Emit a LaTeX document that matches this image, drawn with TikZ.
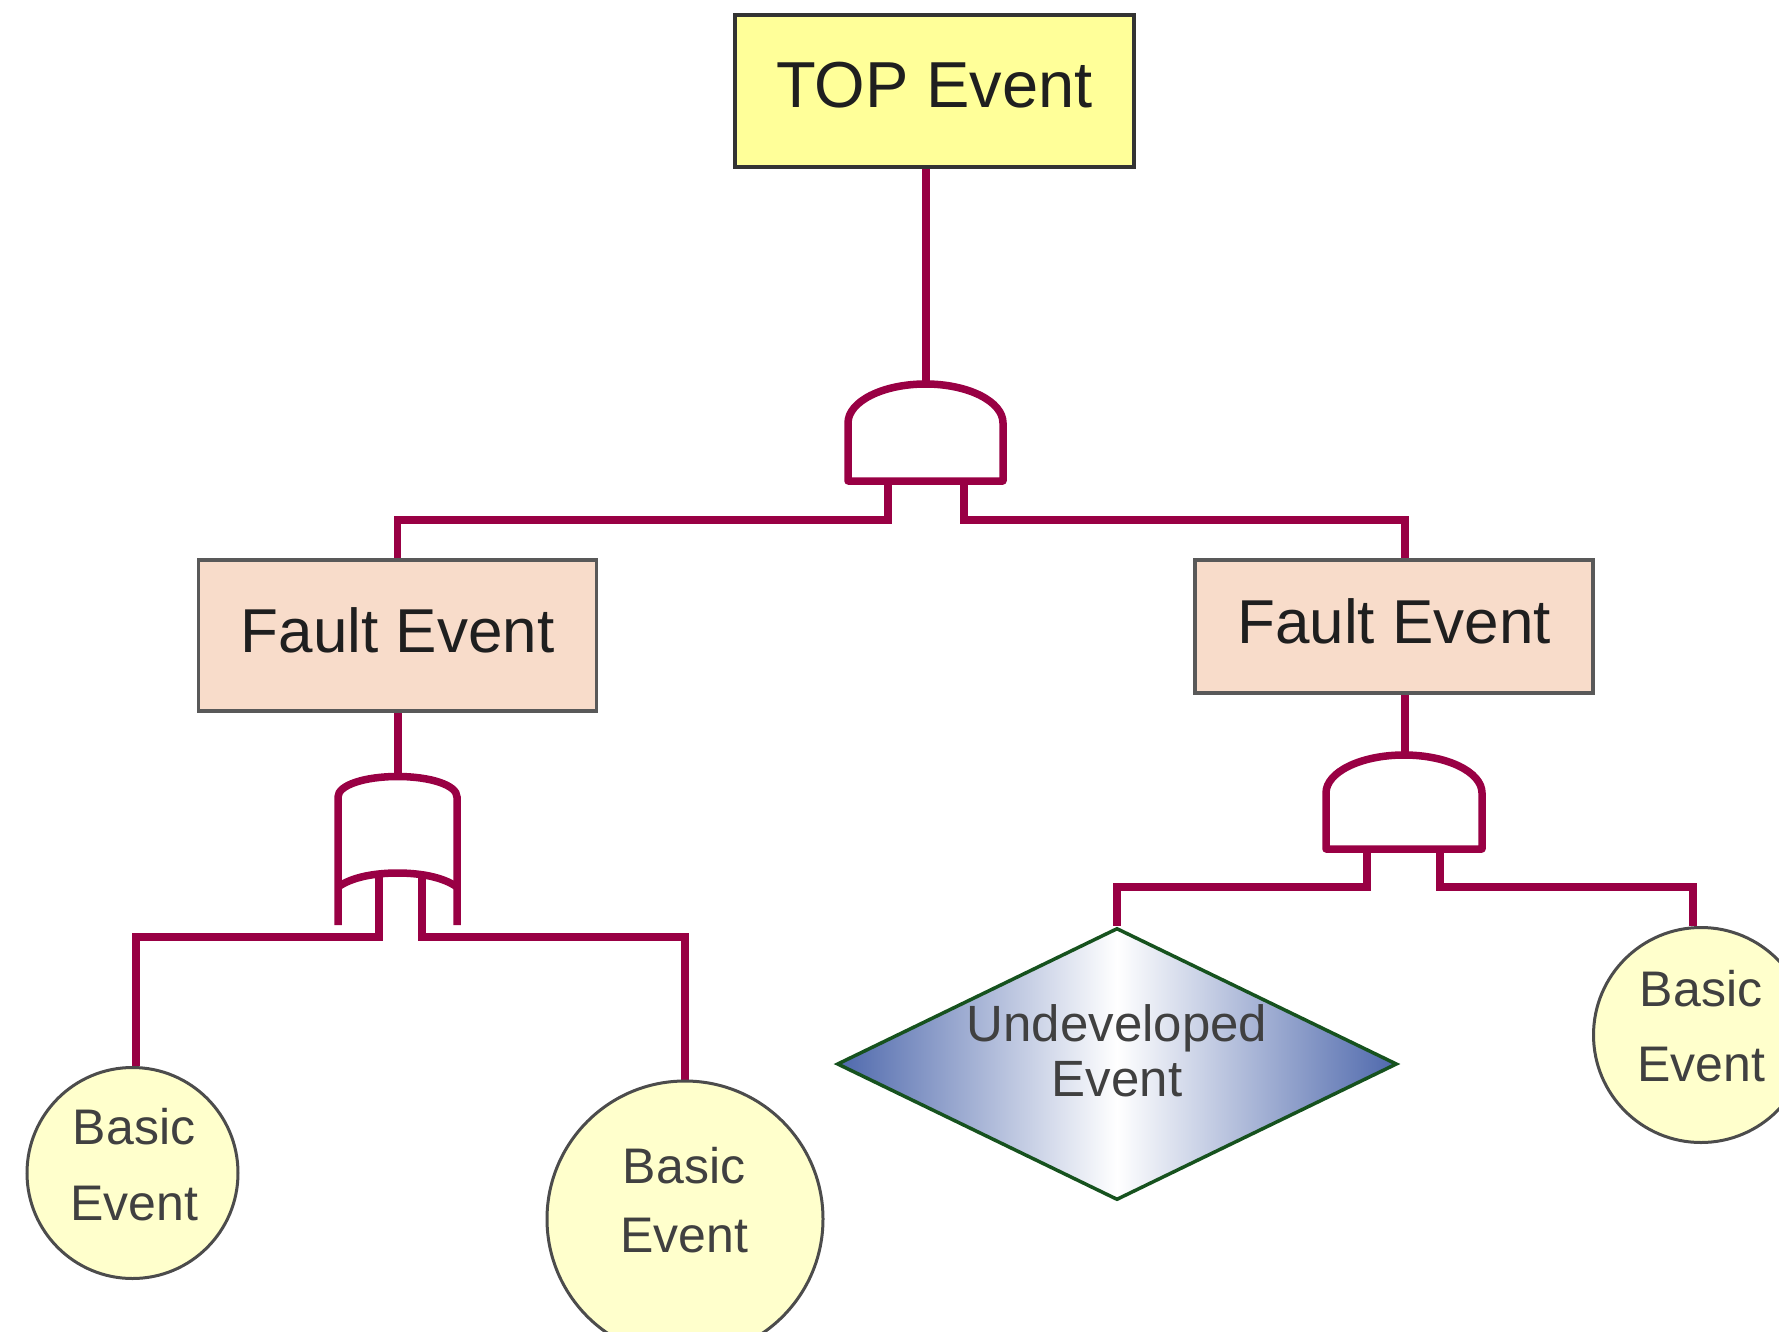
\documentclass[tikz,border=0pt]{standalone}
\usepackage{fontspec}
\setmainfont{Liberation Sans}
\usetikzlibrary{shapes.geometric,backgrounds}
\definecolor{wire}{RGB}{153,0,68}
\definecolor{topfill}{RGB}{255,255,153}
\definecolor{faultfill}{RGB}{248,220,202}
\definecolor{basicfill}{RGB}{255,255,204}
\definecolor{udblue}{RGB}{78,104,172}
\definecolor{udgreen}{RGB}{22,82,30}
\begin{document}
\begin{tikzpicture}[x=1pt,y=-1pt,
  wirestyle/.style={draw=wire,line width=7.5pt,line join=miter},
  gatestyle/.style={draw=wire,line width=7.5pt,line join=round},
  topbox/.style={rectangle,draw=black!80,line width=3.5pt,fill=topfill,minimum width=399pt,minimum height=152pt,inner sep=0pt,text depth=12pt,font=\fontsize{65}{70}\selectfont,text=black!88},
  faultbox/.style={rectangle,draw=black!65,line width=3.5pt,fill=faultfill,minimum width=398pt,inner sep=0pt,text depth=11pt,font=\fontsize{62}{66}\selectfont,text=black!88},
  basicev/.style={circle,draw=black!70,line width=3pt,fill=basicfill,inner sep=0pt},
  basictxt/.style={align=center,inner sep=0pt,text=black!75,font=\fontsize{50}{#1}\selectfont},
  udtxt/.style={align=center,inner sep=0pt,text=black!75,font=\fontsize{51}{55}\selectfont}]
\useasboundingbox (0,0) rectangle (1779,1332);
\clip (0,0) rectangle (1779,1332);

% nodes
\node[topbox] (top) at (934.5,91) {TOP Event};
\node[faultbox,minimum height=151pt] (fl) at (397.5,635.5) {Fault Event};
\node[faultbox,minimum height=133pt] (fr) at (1394,626.5) {Fault Event};

\node[basicev,minimum size=211pt] (b1) at (132.5,1173) {};
\node[basictxt=76] (b1t) at (134,1164.5) {Basic\\Event};
\node[basicev,minimum size=276pt] (b2) at (685,1219) {};
\node[basictxt=69] (b2t) at (684,1200.5) {Basic\\Event};
\node[basicev,minimum size=215pt] (b4) at (1701,1035) {};
\node[basictxt=75] (b4t) at (1701,1026) {Basic\\Event};

\node[diamond,draw=udgreen,line width=3.5pt,minimum width=560pt,minimum height=272pt,inner sep=0pt,
      left color=udblue,right color=udblue,middle color=white] (ud) at (1117,1064) {};
\node[udtxt] (udt) at (1117,1051) {Undeveloped\\Event};

% gate ports
\coordinate (g1top) at (926,384);
\coordinate (g1l) at (888,481);
\coordinate (g1lb) at (888,520);
\coordinate (g1r) at (964,481);
\coordinate (g1rb) at (964,520);

\coordinate (g2top) at (1405,755);
\coordinate (g2l) at (1367,849);
\coordinate (g2lb) at (1367,887);
\coordinate (g2r) at (1440,849);
\coordinate (g2rb) at (1440,887);

\coordinate (ortop) at (398,776);
\coordinate (orl) at (379,875);
\coordinate (orlb) at (379,937);
\coordinate (orr) at (422,875);
\coordinate (orrb) at (422,937);

% gates
\draw[gatestyle] (848,481) -- (848,423) .. controls (848,401.5) and (882.7,384) .. (925.5,384)
   .. controls (968.3,384) and (1003,401.5) .. (1003,423) -- (1003,481) -- cycle;
\draw[gatestyle] (1326,849) -- (1326,793) .. controls (1326,772) and (1361,755) .. (1404,755)
   .. controls (1447,755) and (1482,772) .. (1482,793) -- (1482,849) -- cycle;
\draw[gatestyle,line join=miter] (338,925) -- (338,797) .. controls (338,785) and (365,776.5) .. (397.5,776.5)
   .. controls (430,776.5) and (457,785) .. (457,797) -- (457,925);
\draw[gatestyle] (338,887) .. controls (352,877) and (375,873) .. (397.5,873)
   .. controls (420,873) and (443,877) .. (457,887);

% connectors
\begin{scope}[on background layer]
\fill[white] (0,0) rectangle (1779,1332);
\draw[wirestyle] (top.south -| g1top) -- (g1top);
\draw[wirestyle] (g1l) -- (g1lb) -| (fl.north);
\draw[wirestyle] (g1r) -- (g1rb) -| (fr.north -| g2top);
\draw[wirestyle] (fr.south -| g2top) -- (g2top);
\draw[wirestyle] (g2l) -- (g2lb) -| (ud.north);
\draw[wirestyle] (g2r) -- (g2rb) -| ([xshift=-8pt]b4.north);
\draw[wirestyle] (fl.south -| ortop) -- (ortop);
\draw[wirestyle] (orl) -- (orlb) -| ([xshift=3.5pt]b1.north);
\draw[wirestyle] (orr) -- (orrb) -| (b2.north);
\end{scope}
\end{tikzpicture}
\end{document}
